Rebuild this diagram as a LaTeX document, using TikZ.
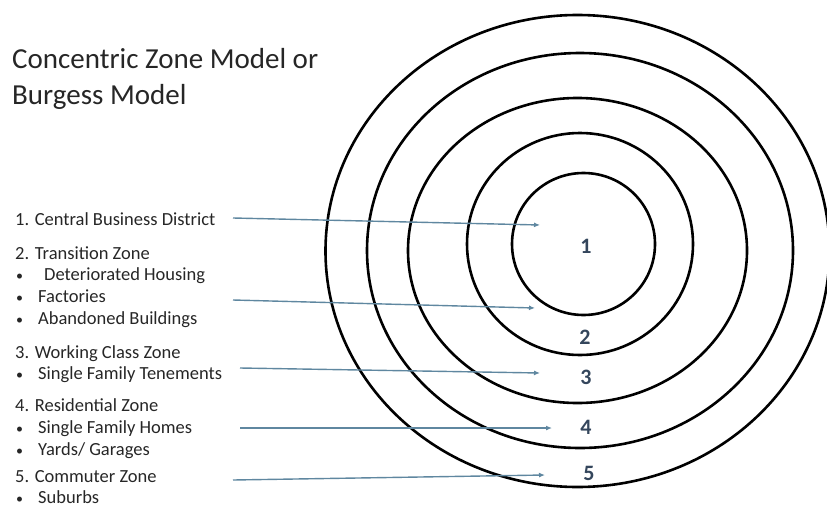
\documentclass[tikz,border=0pt]{standalone}
\usepackage{fontspec}
\setmainfont{Carlito}
\usetikzlibrary{arrows.meta,positioning}
\definecolor{zonetext}{RGB}{38,38,38}
\definecolor{zonenum}{RGB}{52,70,92}
\definecolor{pointerblue}{RGB}{95,135,160}
\newcommand{\zonebullet}[1][24pt]{\makebox[#1][l]{\hspace{2pt}{\fontsize{14}{16}\selectfont •}}}

\begin{document}
\begin{tikzpicture}[x=1pt,y=-1pt,
  heading/.style={font=\fontsize{29}{33}\selectfont, text=zonetext, anchor=base west, inner sep=0},
  entry/.style={font=\fontsize{18.5}{22}\selectfont, text=zonetext, anchor=base west, inner sep=0},
  ringnum/.style={font=\fontsize{22}{26}\selectfont\bfseries, text=zonenum, inner sep=0},
  ring/.style={black, line width=2.6pt},
  pointer/.style={pointerblue, line width=1.4pt, -{Latex[length=6pt,width=5pt]}}]
  \useasboundingbox (0,0) rectangle (827,506);

  % Title
  \node[heading] (title1) at (12,68) {Concentric Zone Model or};
  \node[heading] (title2) at (12,104) {Burgess Model};

  % Zone list
  \node[entry] (cbd) at (15,225) {1. Central Business District};
  \node[entry] (trans) at (15,259) {2. Transition Zone};
  \node[entry] (trans1) at (14,280) {\zonebullet[30pt]Deteriorated Housing};
  \node[entry] (trans2) at (14,302) {\zonebullet Factories};
  \node[entry] (trans3) at (14,324) {\zonebullet Abandoned Buildings};
  \node[entry] (work) at (15,358) {3. Working Class Zone};
  \node[entry] (work1) at (14,379) {\zonebullet Single Family Tenements};
  \node[entry] (resi) at (15,411) {4. Residential Zone};
  \node[entry] (resi1) at (14,433) {\zonebullet Single Family Homes};
  \node[entry] (resi2) at (14,455) {\zonebullet Yards/ Garages};
  \node[entry] (comm) at (15,482) {5. Commuter Zone};
  \node[entry] (comm1) at (14,503) {\zonebullet Suburbs};

  % Rings, inner to outer
  \draw[ring] (583.5,244) ellipse [x radius=71.5, y radius=71];
  \draw[ring] (580,244) ellipse [x radius=113, y radius=111];
  \draw[ring] (577.5,250.5) ellipse [x radius=169.5, y radius=152.5];
  \draw[ring] (580,250.5) ellipse [x radius=213, y radius=197.5];
  \draw[ring] (577.5,251) ellipse [x radius=252, y radius=236];

  % Zone numbers
  \node[ringnum] (z1) at (586,246) {1};
  \node[ringnum] (z2) at (585,337) {2};
  \node[ringnum] (z3) at (586,377) {3};
  \node[ringnum] (z4) at (586,427) {4};
  \node[ringnum] (z5) at (589,473) {5};

  % Pointers
  \coordinate (p1) at (233,218);
  \coordinate (q1) at (540,225);
  \coordinate (p2) at (233,300);
  \coordinate (q2) at (535,308);
  \coordinate (p3) at (240,368);
  \coordinate (q3) at (540,373);
  \coordinate (p4) at (240,428);
  \coordinate (q4) at (552,428);
  \coordinate (p5) at (233,480);
  \coordinate (q5) at (545,475);
  \draw[pointer] (p1) -- (q1);
  \draw[pointer] (p2) -- (q2);
  \draw[pointer] (p3) -- (q3);
  \draw[pointer] (p4) -- (q4);
  \draw[pointer] (p5) -- (q5);
\end{tikzpicture}
\end{document}
